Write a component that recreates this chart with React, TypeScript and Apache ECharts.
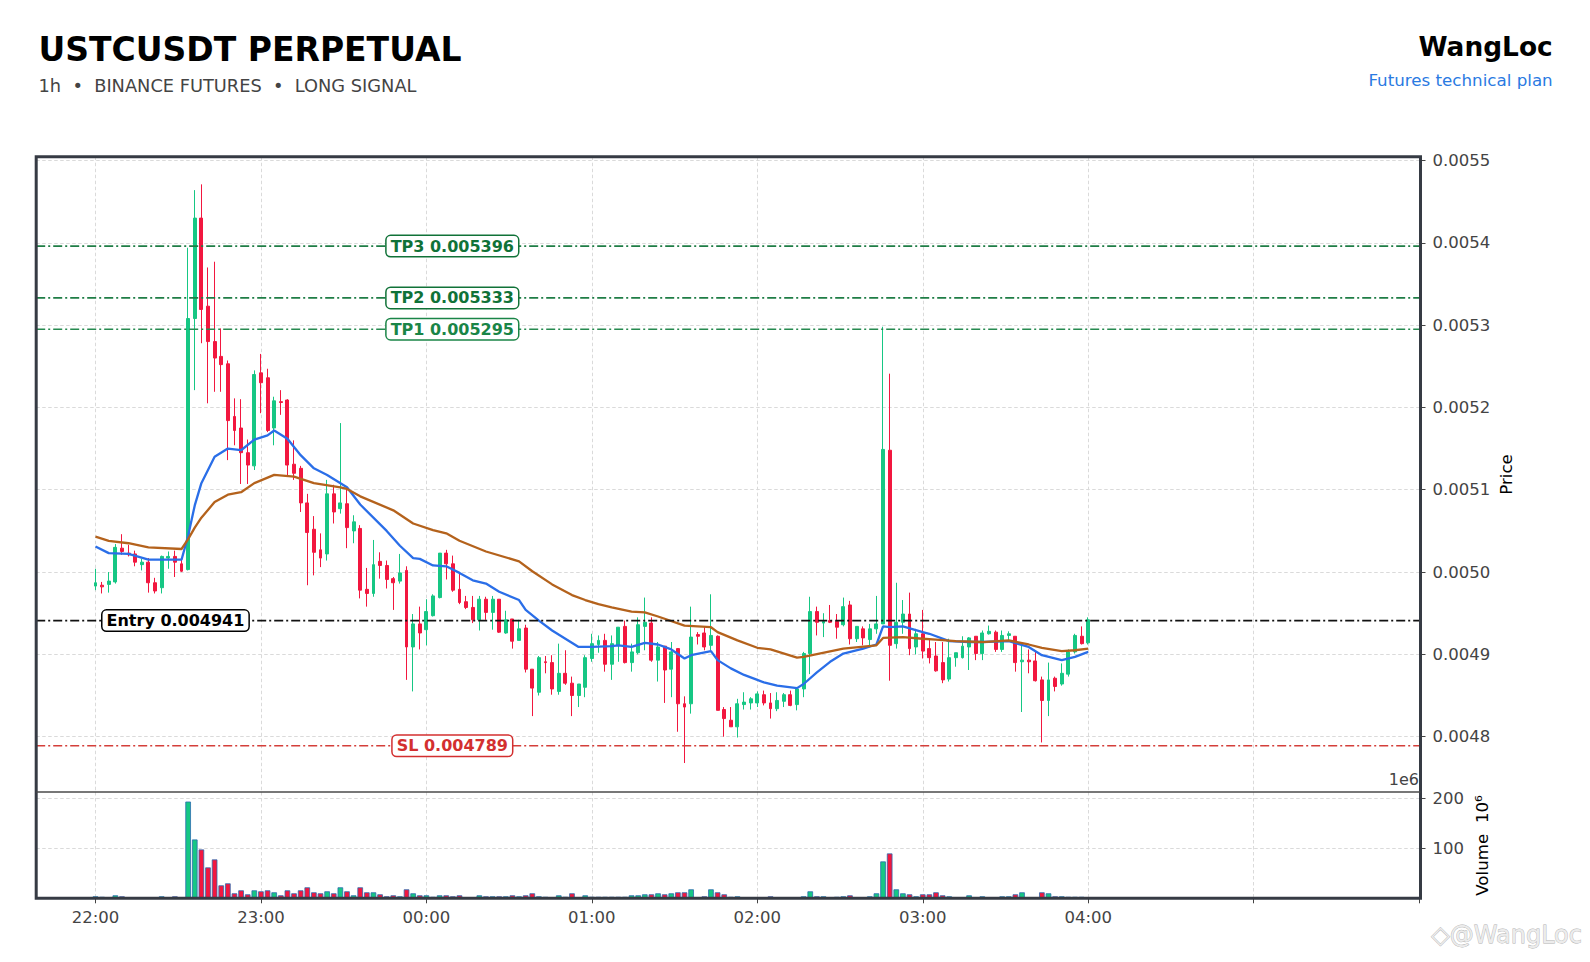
import React, { useEffect, useRef } from "react";
import * as echarts from "echarts";

// ---------- texts ----------
const TITLE = "USTCUSDT PERPETUAL";
const SUBTITLE = "1h  •  BINANCE FUTURES  •  LONG SIGNAL";
const BRAND = "WangLoc";
const BRAND_SUB = "Futures technical plan";
const WATERMARK = "◇@WangLoc";

// ---------- candle data (prices in 1e-6 USDT), one candle every 2.4 min from 22:00 ----------
const opens = [
  4983, 4984, 4985, 4988, 5029, 5023, 5022, 5009, 5012, 4987, 4981, 5017, 5019, 5010, 5003, 5308, 5430, 5323, 5280, 5262,
  5253, 5189, 5175, 5145, 5129, 5242, 5236, 5175, 5207, 5209, 5131, 5126, 5084, 5052, 5027, 5022, 5095, 5077, 5083, 5050,
  5053, 4979, 4974, 5013, 5008, 4992, 4989, 5002, 4909, 4937, 4930, 4947, 4969, 5023, 5010, 4979, 4964, 4957, 4942, 4967,
  4951, 4967, 4926, 4943, 4917, 4932, 4882, 4854, 4891, 4890, 4855, 4877, 4865, 4850, 4860, 4895, 4912, 4917, 4888, 4911,
  4934, 4890, 4902, 4934, 4938, 4893, 4910, 4882, 4907, 4840, 4840, 4924, 4926, 4911, 4922, 4833, 4820, 4812, 4839, 4841,
  4841, 4851, 4841, 4834, 4843, 4851, 4839, 4858, 4901, 4952, 4938, 4941, 4940, 4936, 4960, 4919, 4931, 4918, 4931, 4937,
  5148, 4913, 4939, 4949, 4909, 4925, 4907, 4898, 4890, 4870, 4896, 4896, 4909, 4922, 4901, 4925, 4927, 4906, 4923, 4922,
  4891, 4893, 4892, 4869, 4844, 4871, 4864, 4876, 4903, 4922, 4914,
];
const closes = [
  4987, 4982, 4989, 5030, 5025, 5021, 5012, 5012, 4987, 4977, 5019, 5019, 5012, 5001, 5308, 5430, 5319, 5280, 5260, 5252,
  5184, 5172, 5145, 5130, 5240, 5230, 5172, 5208, 5206, 5130, 5120, 5084, 5048, 5024, 5017, 5095, 5073, 5084, 5054, 5061,
  4978, 4974, 5009, 5008, 4991, 4987, 4999, 4909, 4937, 4926, 4952, 4971, 5023, 5010, 4978, 4963, 4957, 4942, 4967, 4951,
  4967, 4927, 4942, 4916, 4931, 4882, 4859, 4896, 4890, 4858, 4877, 4865, 4850, 4864, 4896, 4913, 4917, 4888, 4913, 4933,
  4890, 4903, 4936, 4939, 4893, 4909, 4881, 4903, 4840, 4836, 4921, 4922, 4909, 4923, 4832, 4822, 4812, 4840, 4842, 4846,
  4852, 4841, 4834, 4844, 4851, 4838, 4858, 4901, 4952, 4939, 4940, 4939, 4933, 4958, 4919, 4934, 4920, 4931, 4937, 5149,
  4911, 4939, 4949, 4907, 4925, 4904, 4896, 4880, 4869, 4896, 4902, 4910, 4920, 4901, 4926, 4928, 4906, 4923, 4925, 4890,
  4893, 4891, 4868, 4844, 4869, 4861, 4877, 4903, 4923, 4913, 4942,
];
const lows = [
  4978, 4974, 4975, 4986, 5021, 5019, 5007, 5002, 4975, 4974, 4974, 5004, 4994, 5000, 5002, 5221, 5278, 5205, 5219, 5219,
  5136, 5154, 5107, 5107, 5124, 5193, 5170, 5154, 5191, 5116, 5112, 5073, 4984, 4996, 5006, 5014, 5059, 5071, 5029, 5035,
  4968, 4958, 4970, 4992, 4980, 4954, 4986, 4869, 4855, 4906, 4911, 4946, 4968, 4991, 4976, 4961, 4955, 4938, 4929, 4942,
  4930, 4926, 4925, 4907, 4917, 4878, 4825, 4850, 4877, 4851, 4851, 4863, 4825, 4836, 4848, 4891, 4902, 4879, 4869, 4891,
  4889, 4879, 4900, 4905, 4891, 4867, 4841, 4848, 4806, 4768, 4828, 4912, 4905, 4905, 4832, 4800, 4812, 4799, 4833, 4833,
  4836, 4838, 4822, 4831, 4836, 4837, 4832, 4848, 4876, 4923, 4921, 4938, 4919, 4934, 4912, 4915, 4911, 4911, 4925, 4937,
  4868, 4907, 4925, 4899, 4900, 4895, 4889, 4879, 4865, 4867, 4885, 4895, 4881, 4893, 4893, 4924, 4903, 4903, 4917, 4879,
  4830, 4877, 4867, 4793, 4825, 4855, 4862, 4873, 4901, 4912, 4912,
];
const highs = [
  5004, 4988, 5000, 5034, 5046, 5033, 5026, 5016, 5017, 4993, 5020, 5025, 5026, 5017, 5394, 5464, 5471, 5370, 5377, 5296,
  5257, 5211, 5210, 5161, 5245, 5265, 5247, 5213, 5221, 5210, 5160, 5129, 5095, 5068, 5047, 5112, 5106, 5181, 5104, 5069,
  5057, 5005, 5039, 5024, 5014, 4994, 5022, 5007, 4949, 4958, 4967, 4973, 5023, 5027, 5020, 4999, 4971, 4971, 4971, 4970,
  4971, 4967, 4953, 4943, 4942, 4936, 4882, 4898, 4898, 4899, 4913, 4905, 4873, 4864, 4899, 4925, 4923, 4925, 4923, 4933,
  4941, 4913, 4945, 4969, 4945, 4915, 4910, 4915, 4907, 4849, 4958, 4927, 4933, 4973, 4923, 4836, 4836, 4846, 4854, 4848,
  4855, 4856, 4853, 4854, 4853, 4856, 4860, 4903, 4970, 4958, 4950, 4960, 4949, 4969, 4965, 4934, 4934, 4937, 4971, 5298,
  5241, 4987, 4966, 4975, 4931, 4954, 4919, 4915, 4915, 4919, 4902, 4922, 4921, 4922, 4929, 4935, 4929, 4929, 4928, 4922,
  4913, 4906, 4903, 4873, 4890, 4873, 4889, 4906, 4925, 4934, 4945,
];
// volume in millions (offset 1e6)
const volumesM = [
  4, 3, 2, 6, 4, 2, 2, 2, 2, 2, 4, 2, 4, 2, 194, 118, 98, 62, 78, 26,
  30, 10, 16, 8, 16, 14, 16, 12, 6, 16, 10, 16, 22, 12, 10, 14, 10, 22, 14, 6,
  22, 12, 12, 8, 4, 6, 4, 18, 10, 6, 6, 3, 6, 6, 4, 6, 2, 2, 6, 4,
  4, 4, 4, 6, 4, 6, 10, 4, 3, 2, 6, 3, 10, 2, 6, 3, 3, 3, 3, 3,
  3, 6, 6, 8, 8, 10, 8, 10, 12, 12, 18, 2, 4, 18, 12, 8, 3, 4, 2, 2,
  1.5, 2, 4, 2, 2, 2, 2, 4, 14, 4, 4, 2, 3, 4, 6, 2, 2, 4, 10, 74,
  90, 18, 10, 8, 4, 8, 8, 12, 6, 4, 2, 2, 6, 2, 4, 2, 2, 4, 4, 8,
  12, 2, 2, 12, 10, 4, 4, 3, 3, 3, 2,
];

// moving averages: [candle index, price in 1e-6]
const maFast = [
  [0, 5031], [2, 5023], [5, 5022], [8, 5015], [13, 5015], [14, 5044], [15, 5081], [16, 5108], [18, 5140], [20, 5150],
  [22, 5148], [24, 5161], [26, 5166], [27, 5172], [29, 5162], [31, 5142], [33, 5126], [35, 5118], [38, 5103], [40, 5082],
  [44, 5050], [46, 5032], [48, 5017], [49, 5016], [51, 5008], [53, 5007], [55, 4999], [57, 4990], [59, 4986], [61, 4976],
  [64, 4966], [65, 4954], [67, 4941], [69, 4929], [71, 4919], [73, 4909], [75, 4909], [78, 4910], [79, 4911], [81, 4909],
  [83, 4914], [85, 4912], [87, 4906], [89, 4895], [90, 4899], [93, 4904], [94, 4893], [96, 4883], [98, 4875], [100, 4869],
  [101, 4866], [103, 4862], [106, 4859], [107, 4864], [109, 4878], [111, 4891], [113, 4901], [116, 4907], [118, 4912],
  [119, 4934], [120, 4933], [122, 4934], [125, 4927], [126, 4925], [129, 4916], [132, 4915], [134, 4915], [138, 4916],
  [141, 4909], [143, 4899], [146, 4893], [148, 4897], [150, 4903],
];
const maSlow = [
  [0, 5043], [2, 5038], [5, 5035], [8, 5030], [13, 5028], [14, 5040], [15, 5054], [16, 5066], [18, 5085], [20, 5094],
  [22, 5097], [24, 5108], [27, 5118], [30, 5116], [33, 5108], [37, 5103], [38, 5101], [40, 5092], [45, 5075], [48, 5059],
  [51, 5051], [53, 5047], [55, 5038], [59, 5025], [64, 5013], [66, 5001], [69, 4985], [72, 4972], [74, 4966], [76, 4961],
  [78, 4957], [81, 4952], [83, 4951], [85, 4946], [89, 4935], [93, 4933], [94, 4927], [97, 4917], [100, 4908], [102, 4906],
  [106, 4896], [107, 4897], [113, 4907], [118, 4911], [119, 4920], [122, 4921], [125, 4919], [127, 4918], [130, 4916],
  [134, 4915], [138, 4917], [141, 4912], [143, 4908], [146, 4904], [148, 4905], [150, 4907],
];

// trade plan levels
const levelNames = ["TP3", "TP2", "TP1", "Entry", "SL"];
const levelValues = [0.005396, 0.005333, 0.005295, 0.004941, 0.004789];

// axis ticks
const hourLabels = ["22:00", "23:00", "00:00", "01:00", "02:00", "03:00", "04:00"];
const hourTickMinutes = [0, 60, 120, 180, 240, 300, 360, 420, 480];
const priceTicks = [0.0048, 0.0049, 0.005, 0.0051, 0.0052, 0.0053, 0.0054, 0.0055];
const volumeTicks = [100, 200];

// ---------- styles / layout ----------
const STEP_MIN = 2.4;
const FONT = "DejaVu Sans";
const UP = "#16c784";
const DOWN = "#f2173f";
const GRID_LINE = { color: "#dadada", width: 1, type: [3.5, 2.5] as number[] };
const L = 36.2, R = 1420.5, T = 156.7, MID = 792, B = 898.3;
const X_MIN = -21.5, X_MAX = 480.5;
const Y_MIN = 0.0047328, Y_MAX = 0.0055046;
const VOL_MAX = 213.2;
const levelStyle: Record<string, { line: string; text: string; labelAt: number }> = {
  TP3: { line: "#1f7d46", text: "#107238", labelAt: 129.4 },
  TP2: { line: "#1f7d46", text: "#107238", labelAt: 129.4 },
  TP1: { line: "#278a50", text: "#1a8547", labelAt: 129.4 },
  Entry: { line: "#111111", text: "#000000", labelAt: 29.0 },
  SL: { line: "#d43f3a", text: "#d32f2f", labelAt: 129.4 },
};

function buildOption() {
  const times = opens.map((_, i) => i * STEP_MIN);
  const candles = times.map((t, i) => [t, opens[i] / 1e6, closes[i] / 1e6, lows[i] / 1e6, highs[i] / 1e6]);
  const vols = times.map((t, i) => ({
    value: [t, volumesM[i]],
    itemStyle: { color: closes[i] >= opens[i] ? UP : DOWN },
  }));
  const toLine = (arr: number[][]) => arr.map(([i, v]) => [i * STEP_MIN, v / 1e6]);

  const axisLabelStyle = { color: "#444", fontSize: 16.5, fontFamily: FONT };

  const levelSeries = levelNames.map((n, i) => ({
    type: "line", name: n, xAxisIndex: 0, yAxisIndex: 0, z: 4, silent: true,
    data: [[X_MIN, levelValues[i]], [X_MAX, levelValues[i]]],
    showSymbol: false, symbol: "none",
    lineStyle: { color: levelStyle[n].line, width: 1.7, type: [9, 3, 2, 3] },
  }));

  return {
    animation: false,
    backgroundColor: "#ffffff",
    textStyle: { fontFamily: FONT },
    grid: [
      { left: L, top: T, width: R - L, height: MID - T },
      { left: L, top: MID, width: R - L, height: B - MID },
    ],
    xAxis: [
      {
        type: "value", gridIndex: 0, min: X_MIN, max: X_MAX, minInterval: 60, maxInterval: 60,
        axisLine: { show: false, onZero: false }, axisTick: { show: false }, axisLabel: { show: false },
        splitLine: { show: true, lineStyle: GRID_LINE },
      },
      {
        type: "value", gridIndex: 1, min: X_MIN, max: X_MAX, minInterval: 60, maxInterval: 60,
        axisLine: { show: false, onZero: false },
        axisTick: { show: true, customValues: hourTickMinutes, length: 5, lineStyle: { color: "#444" } },
        axisLabel: {
          show: true, customValues: hourTickMinutes.slice(0, hourLabels.length), margin: 11, ...axisLabelStyle,
          formatter: (v: number) => hourLabels[Math.round(v / 60)] ?? "",
        },
        splitLine: { show: true, lineStyle: GRID_LINE },
      },
    ],
    yAxis: [
      {
        type: "value", gridIndex: 0, position: "right", min: Y_MIN, max: Y_MAX,
        minInterval: 0.0001, maxInterval: 0.0001, scale: true,
        axisLine: { show: false, onZero: false },
        axisTick: { show: true, customValues: priceTicks, length: 5, lineStyle: { color: "#444" } },
        axisLabel: {
          show: true, customValues: priceTicks, margin: 12, ...axisLabelStyle,
          formatter: (v: number) => v.toFixed(4),
        },
        splitLine: { show: true, lineStyle: GRID_LINE },
      },
      {
        type: "value", gridIndex: 1, position: "right", min: 0, max: VOL_MAX,
        minInterval: 100, maxInterval: 100,
        axisLine: { show: false, onZero: false },
        axisTick: { show: true, customValues: volumeTicks, length: 5, lineStyle: { color: "#444" } },
        axisLabel: {
          show: true, customValues: volumeTicks, margin: 12, ...axisLabelStyle,
          formatter: (v: number) => String(v),
        },
        splitLine: { show: true, lineStyle: GRID_LINE },
      },
    ],
    series: [
      ...levelSeries,
      {
        type: "candlestick", name: "Price", xAxisIndex: 0, yAxisIndex: 0, z: 2,
        encode: { x: 0, y: [1, 2, 3, 4] },
        data: candles,
        barWidth: 3.4,
        itemStyle: { color: UP, color0: DOWN, borderColor: UP, borderColor0: DOWN, borderColorDoji: UP, borderWidth: 1 },
        markPoint: {
          silent: true, animation: false, z: 6,
          symbol: "rect", symbolSize: 1,
          itemStyle: { color: "rgba(0,0,0,0)" },
          data: levelNames.map((n, i) => ({
            name: n,
            coord: [levelStyle[n].labelAt, levelValues[i]],
            label: {
              show: true, position: "inside",
              formatter: `${n} ${levelValues[i].toFixed(6)}`,
              fontFamily: FONT, fontSize: 16, fontWeight: "bold", lineHeight: 17,
              color: levelStyle[n].text, backgroundColor: "#ffffff",
              borderColor: levelStyle[n].text, borderWidth: 1.5, borderRadius: 4,
              padding: [2, 4, 1, 4],
            },
          })),
        },
      },
      {
        type: "line", name: "MA fast", xAxisIndex: 0, yAxisIndex: 0, z: 3,
        data: toLine(maFast), showSymbol: false, symbol: "none",
        lineStyle: { color: "#2a6ee8", width: 2.3 },
      },
      {
        type: "line", name: "MA slow", xAxisIndex: 0, yAxisIndex: 0, z: 3,
        data: toLine(maSlow), showSymbol: false, symbol: "none",
        lineStyle: { color: "#b4621c", width: 2.3 },
      },
      {
        type: "bar", name: "Volume", xAxisIndex: 1, yAxisIndex: 1, z: 2,
        data: vols, barWidth: 5.6,
        itemStyle: { borderColor: "#2b6cb0", borderWidth: 0.8 },
      },
    ],
    graphic: [
      {
        type: "text", x: 38.5, y: 49.5, z: 10,
        style: { text: TITLE, font: `bold 33px ${FONT}`, fill: "#000", textAlign: "left", align: "left", textVerticalAlign: "middle", verticalAlign: "middle" },
      },
      {
        type: "text", x: 38.5, y: 85.5, z: 10,
        style: { text: SUBTITLE, font: `17.8px ${FONT}`, fill: "#444", textAlign: "left", align: "left", textVerticalAlign: "middle", verticalAlign: "middle" },
      },
      {
        type: "text", x: 1552.7, y: 46, z: 10,
        style: { text: BRAND, font: `bold 26.4px ${FONT}`, fill: "#000", textAlign: "right", align: "right", textVerticalAlign: "middle", verticalAlign: "middle" },
      },
      {
        type: "text", x: 1552.7, y: 79.5, z: 10,
        style: { text: BRAND_SUB, font: `16.7px ${FONT}`, fill: "#2a7ae2", textAlign: "right", align: "right", textVerticalAlign: "middle", verticalAlign: "middle" },
      },
      {
        type: "text", x: 1506, y: 474.5, rotation: Math.PI / 2, z: 10,
        style: { text: "Price", font: `16.7px ${FONT}`, fill: "#000", textAlign: "center", align: "center", textVerticalAlign: "middle", verticalAlign: "middle" },
      },
      {
        type: "text", x: 1481.7, y: 845.5, rotation: Math.PI / 2, z: 10,
        style: { text: "Volume  10⁶", font: `16.7px ${FONT}`, fill: "#000", textAlign: "center", align: "center", textVerticalAlign: "middle", verticalAlign: "middle" },
      },
      {
        type: "text", x: 1419, y: 779, z: 10,
        style: { text: "1e6", font: `16px ${FONT}`, fill: "#444", textAlign: "right", align: "right", textVerticalAlign: "middle", verticalAlign: "middle" },
      },
      {
        type: "text", x: 1582, y: 935, z: 10,
        style: { text: WATERMARK, font: `24px ${FONT}`, fill: "#ececec", stroke: "#b0b0b0", lineWidth: 0.8, textAlign: "right", align: "right", textVerticalAlign: "middle", verticalAlign: "middle" },
      },
      {
        type: "rect", z: 20, silent: true,
        shape: { x: L, y: T, width: R - L, height: B - T },
        style: { fill: "none", stroke: "#363b44", lineWidth: 3 },
      },
      {
        type: "line", z: 20, silent: true,
        shape: { x1: L, y1: MID, x2: R, y2: MID },
        style: { stroke: "#4a4a4a", lineWidth: 1.3 },
      },
    ],
  };
}

export default function App() {
  const ref = useRef<HTMLDivElement>(null);
  useEffect(() => {
    if (!ref.current) return;
    const chart = echarts.init(ref.current, null, { renderer: "svg" });
    chart.setOption(buildOption() as any);
    return () => chart.dispose();
  }, []);
  return (
    <div
      ref={ref}
      style={{ position: "fixed", left: 0, top: 0, width: 1590, height: 962, background: "#fff" }}
    />
  );
}
